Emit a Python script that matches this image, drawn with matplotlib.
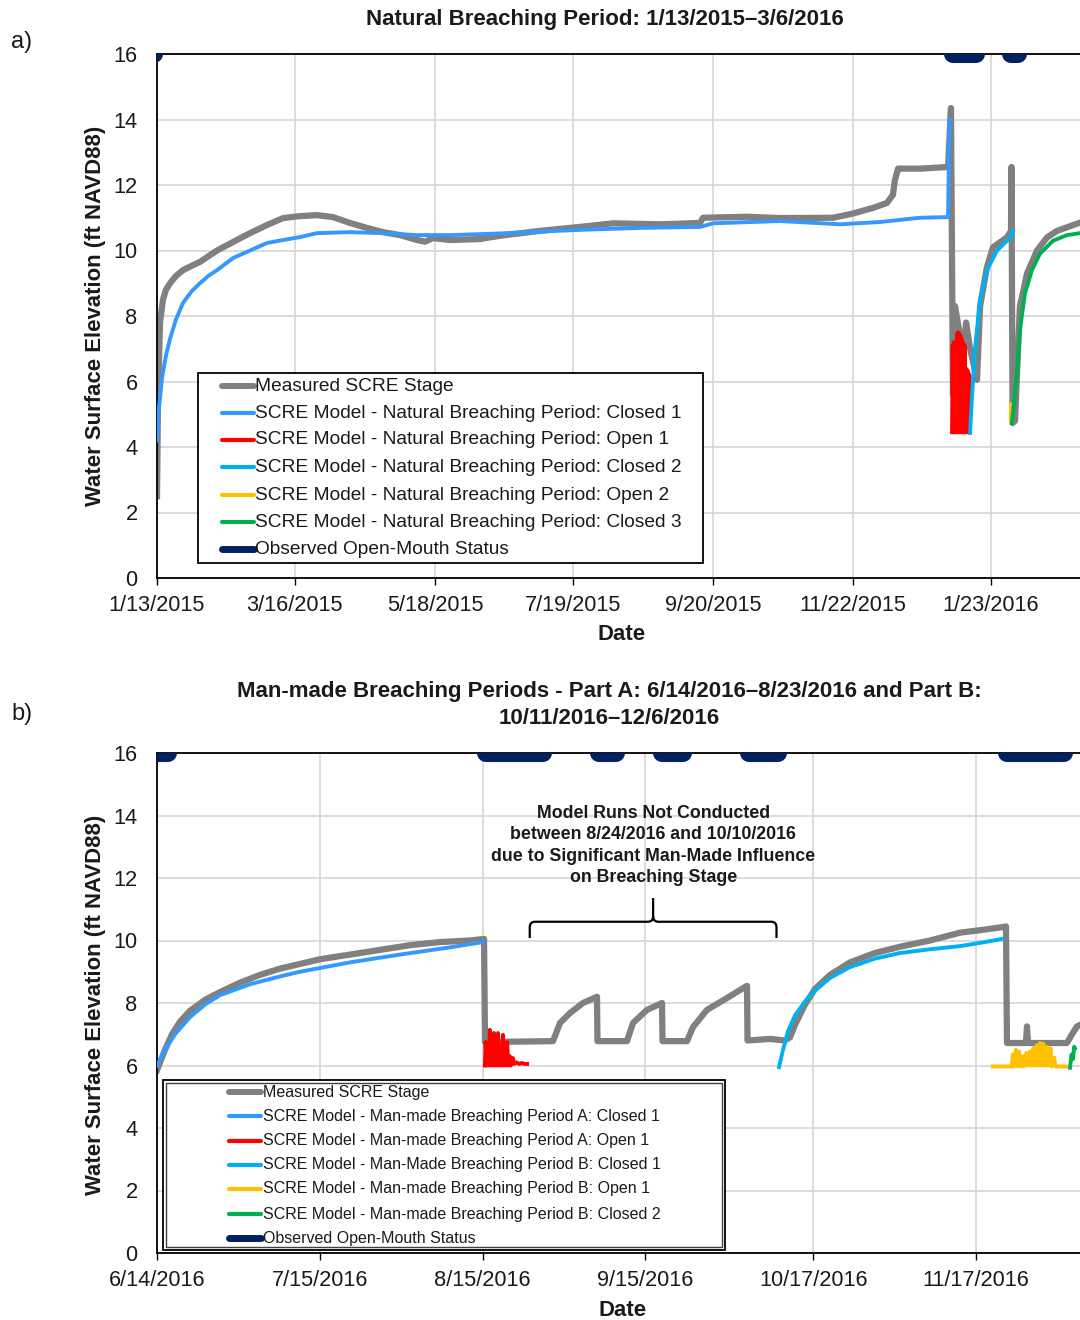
import numpy as np
import pandas as pd
import matplotlib
matplotlib.use("Agg")
import matplotlib.pyplot as plt
import matplotlib.dates as mdates
from matplotlib.lines import Line2D
from matplotlib.patches import Rectangle, PathPatch
from matplotlib.path import Path

plt.rcParams['font.family'] = ['Liberation Sans', 'DejaVu Sans']

# ---------------------------------------------------------------- data
# a) Natural breaching period; x = days after the start date
nat_start = "2015-01-13"
nat_ticks = ["1/13/2015", "3/16/2015", "5/18/2015", "7/19/2015",
             "9/20/2015", "11/22/2015", "1/23/2016"]

nat_measured_day = [0.0, 0.45, 1.35, 2.7, 4.0, 5.85, 8.5, 11.7, 15.5, 19.3,
                    23.0, 27.0, 34.2, 41.8, 49.5, 56.7, 64.3, 71.9, 79.1, 86.8,
                    94.4, 101.6, 109.3, 116.9, 120.5, 124.1, 131.7, 145.2, 154.2, 172.2,
                    190.2, 205.0, 226.2, 244.2, 245.5, 265.3, 280.1, 304.0, 313.0, 321.9,
                    328.2, 330.9, 331.8, 333.2, 343.1, 355.7, 357.0, 357.9, 358.8, 361.1,
                    362.9, 363.8, 365.6, 368.7, 370.1, 373.2, 375.9, 382.2, 384.0, 384.2,
                    384.7, 385.8, 388.0, 391.2, 395.7, 400.2, 404.7, 415.0, 419.5]
nat_measured_ft = [2.5, 5.5, 7.8, 8.5, 8.8, 9.0, 9.22, 9.4, 9.53, 9.65,
                   9.82, 10.0, 10.26, 10.53, 10.78, 10.99, 11.05, 11.08, 11.02, 10.84,
                   10.69, 10.56, 10.47, 10.32, 10.27, 10.38, 10.32, 10.35, 10.45, 10.6,
                   10.72, 10.83, 10.8, 10.84, 11.0, 11.03, 10.99, 11.0, 11.13, 11.3,
                   11.45, 11.7, 12.15, 12.5, 12.5, 12.55, 14.35, 5.6, 8.3, 7.4,
                   7.1, 7.8, 7.0, 6.05, 8.3, 9.5, 10.1, 10.4, 10.6, 12.55,
                   4.73, 4.8, 8.3, 9.3, 10.0, 10.4, 10.6, 10.85, 10.9]

nat_closed1_day = [0.0, 0.9, 2.25, 4.05, 5.85, 8.55, 11.7, 15.5, 19.3, 23.0,
                   27.0, 34.2, 41.8, 49.5, 56.7, 64.3, 71.9, 86.8, 101.6, 116.9,
                   131.7, 154.2, 172.2, 190.2, 217.2, 244.2, 250.0, 280.1, 307.1, 325.1,
                   343.1, 355.7, 356.3]
nat_closed1_ft = [4.2, 5.2, 6.1, 6.8, 7.3, 7.9, 8.4, 8.75, 9.0, 9.22,
                  9.4, 9.77, 10.0, 10.23, 10.32, 10.41, 10.53, 10.56, 10.53, 10.47,
                  10.47, 10.52, 10.58, 10.63, 10.69, 10.72, 10.83, 10.9, 10.8, 10.87,
                  11.0, 11.02, 14.0]

nat_open1_day = [357.5, 357.75, 358.0, 358.25, 358.5, 358.75, 359.0, 359.25, 359.5, 359.75,
                 360.0, 360.25, 360.5, 360.75, 361.0, 361.25, 361.5, 361.75, 362.0, 362.25,
                 362.5, 362.75, 363.0, 363.25, 363.5, 363.75, 364.0, 364.25, 364.5, 364.75,
                 365.0, 365.25, 365.5]
nat_open1_ft = [4.45, 7.1, 4.45, 7.2, 4.45, 7.15, 4.45, 7.2, 4.45, 7.45,
                4.45, 7.5, 4.45, 7.45, 4.45, 7.4, 4.45, 7.3, 4.45, 7.2,
                4.45, 7.15, 4.45, 7.1, 4.45, 6.4, 4.45, 6.35, 4.45, 6.3,
                4.45, 6.2, 4.45]

nat_closed2_day = [365.6, 366.5, 367.8, 370.1, 373.2, 377.7, 383.5, 384.9]
nat_closed2_ft = [4.43, 5.6, 7.0, 8.5, 9.4, 10.0, 10.38, 10.6]

nat_open2_day = [383.9, 384.1, 384.25, 384.4]
nat_open2_ft = [5.3, 4.75, 5.1, 4.75]

nat_closed3_day = [384.4, 386.7, 388.0, 390.3, 393.4, 397.0, 402.9, 409.2, 415.0, 419.5]
nat_closed3_ft = [4.73, 6.25, 7.57, 8.7, 9.4, 9.9, 10.3, 10.47, 10.53, 10.55]

nat_obs_start = [-4.0, 357.9, 384.0]
nat_obs_end = [-1.4, 368.3, 387.1]

# b) Man-made breaching periods
man_start = "2016-06-14"
man_ticks = ["6/14/2016", "7/15/2016", "8/15/2016", "9/15/2016",
             "10/17/2016", "11/17/2016"]

man_measured_day = [0.0, 0.57, 1.52, 2.86, 4.38, 6.29, 9.14, 12.0, 15.81, 19.62,
                    23.43, 27.24, 31.05, 36.76, 42.48, 48.19, 53.9, 59.62, 62.29, 62.48,
                    75.43, 76.76, 78.67, 81.14, 83.81, 83.9, 89.52, 90.67, 93.33, 96.19,
                    96.29, 100.95, 102.1, 104.76, 108.57, 112.38, 112.48, 116.76, 119.62, 120.57,
                    121.52, 123.43, 125.33, 128.19, 132.0, 136.76, 141.52, 147.24, 152.95, 157.71,
                    161.14, 161.71, 161.9, 165.52, 165.71, 165.9, 173.33, 174.29, 175.24, 176.5]
man_measured_ft = [5.85, 6.1, 6.5, 7.0, 7.4, 7.75, 8.1, 8.35, 8.65, 8.9,
                   9.1, 9.25, 9.4, 9.55, 9.7, 9.85, 9.95, 10.0, 10.05, 6.75,
                   6.78, 7.36, 7.68, 8.0, 8.2, 6.78, 6.78, 7.36, 7.78, 8.0,
                   6.78, 6.78, 7.23, 7.78, 8.16, 8.55, 6.8, 6.85, 6.8, 6.9,
                   7.3, 7.95, 8.45, 8.9, 9.3, 9.6, 9.8, 10.0, 10.25, 10.35,
                   10.43, 10.45, 6.72, 6.72, 7.25, 6.72, 6.72, 7.0, 7.25, 7.35]

man_closedA1_day = [0.0, 1.52, 3.43, 6.29, 9.14, 12.0, 17.71, 23.43, 27.24, 36.76,
                    46.29, 55.81, 62.1]
man_closedA1_ft = [6.0, 6.5, 7.0, 7.55, 7.95, 8.25, 8.6, 8.85, 9.0, 9.3,
                   9.55, 9.78, 9.95]

man_openA1_day = [62.45, 62.6, 62.75, 62.95, 63.15, 63.4, 63.6, 63.8, 64.0, 64.2,
                  64.4, 64.6, 64.8, 64.95, 65.15, 65.4, 65.6, 65.9, 66.1, 66.3,
                  66.5, 66.7, 66.9, 67.2, 67.4, 67.8, 68.0, 68.5, 69.0, 69.5,
                  70.0, 70.5]
man_openA1_ft = [6.0, 6.75, 6.0, 6.4, 6.0, 7.14, 6.0, 6.5, 6.0, 7.04,
                 6.0, 6.5, 6.0, 7.04, 6.0, 6.5, 6.0, 6.98, 6.0, 6.45,
                 6.0, 6.75, 6.0, 6.3, 6.0, 6.24, 6.05, 6.1, 6.05, 6.08,
                 6.05, 6.05]

man_closedB1_day = [118.48, 119.24, 120.19, 121.52, 123.43, 125.33, 128.19, 132.0, 136.76, 141.52,
                    147.24, 152.95, 157.71, 160.95]
man_closedB1_ft = [5.95, 6.5, 7.1, 7.6, 8.05, 8.4, 8.8, 9.15, 9.42, 9.6,
                   9.72, 9.82, 9.95, 10.05]

man_openB1_day = [159.2, 162.8, 163.0, 163.2, 163.6, 163.8, 164.2, 164.4, 164.9, 165.1,
                  165.6, 165.8, 166.3, 166.5, 166.9, 167.1, 167.6, 167.8, 168.2, 168.4,
                  168.8, 169.0, 169.5, 169.7, 170.2, 170.4, 170.9, 171.1, 173.1]
man_openB1_ft = [5.97, 5.97, 6.35, 5.97, 6.5, 5.97, 6.45, 5.97, 6.3, 5.97,
                 6.4, 6.0, 6.45, 6.0, 6.55, 6.0, 6.65, 6.0, 6.72, 6.0,
                 6.7, 6.0, 6.6, 6.0, 6.55, 5.97, 6.25, 5.97, 5.97]

man_closedB2_day = [173.9, 174.2, 174.45, 174.7, 174.85]
man_closedB2_ft = [5.93, 6.35, 6.2, 6.6, 6.55]

man_obs_start = [-3.0, 62.7, 84.2, 96.2, 112.8, 161.9]
man_obs_end = [2.0, 73.5, 87.4, 100.2, 118.3, 172.8]

# no-model window marked by the brace (days after man_start)
gap_from_day, gap_to_day = 71.0, 118.0

# ---------------------------------------------------------------- style
W, H = 1080, 1320
C_MEAS = "#808080"
C_CL1 = "#3399FF"
C_OPEN1 = "#FF0000"
C_CL2 = "#00B0F0"
C_OPEN2 = "#FFC000"
C_CL3 = "#00B050"
C_OBS = "#002060"
TXT = "#1a1a1a"
TICK_FS = 15.7
LABEL_FS = 15.9
TITLE_FS = 16.0


def fx(px):
    return px / W


def fy(py):
    return 1 - py / H


def axes_rect(left, top, right, bottom):
    return [fx(left), fy(bottom), (right - left) / W, (bottom - top) / H]


def to_num(start, days):
    return mdates.date2num(pd.Timestamp(start)) + np.asarray(days, dtype=float)


fig = plt.figure(figsize=(W / 100, H / 100), dpi=100)
fig.patch.set_facecolor("white")


def setup_axes(ax, start, ticks, span_days):
    x0 = mdates.date2num(pd.Timestamp(start))
    ax.set_xlim(x0, x0 + span_days)
    ax.set_ylim(0, 16)
    ax.set_yticks(np.arange(0, 17, 2))
    tick_pos = [mdates.date2num(pd.to_datetime(t, format="%m/%d/%Y")) for t in ticks]
    ax.set_xticks(tick_pos)
    ax.set_xticklabels(ticks)
    ax.grid(True, color="#D9D9D9", lw=1.3)
    ax.set_axisbelow(True)
    for side in ("left", "bottom", "top"):
        ax.spines[side].set_color("black")
        ax.spines[side].set_linewidth(1.3)
    ax.spines["right"].set_visible(False)
    ax.tick_params(axis="x", direction="out", length=5, width=1, pad=7,
                   labelsize=TICK_FS, labelcolor=TXT)
    ax.tick_params(axis="y", length=0, pad=14, labelsize=TICK_FS, labelcolor=TXT)


def draw_status(ax, start, s_list, e_list):
    for s, e in zip(s_list, e_list):
        ax.plot(to_num(start, [s, e]), [16, 16], color=C_OBS, lw=13,
                solid_capstyle="round", zorder=6)


def draw_key(box, rows_y, handle_x, text_x, entries, fontsize, double=False):
    l, t, r, b = box
    fig.add_artist(Rectangle((fx(l), fy(b)), (r - l) / W, (b - t) / H,
                             transform=fig.transFigure, facecolor="white",
                             edgecolor="black", lw=1.3, zorder=10))
    if double:
        inset = 3
        fig.add_artist(Rectangle((fx(l + inset), fy(b - inset)),
                                 (r - l - 2 * inset) / W, (b - t - 2 * inset) / H,
                                 transform=fig.transFigure, facecolor="none",
                                 edgecolor="#404040", lw=1.0, zorder=10))
    for y, (label, color, lw) in zip(rows_y, entries):
        fig.add_artist(Line2D([fx(handle_x[0]), fx(handle_x[1])], [fy(y), fy(y)],
                              transform=fig.transFigure, color=color, lw=lw,
                              solid_capstyle="round", zorder=11))
        fig.text(fx(text_x), fy(y), label, fontsize=fontsize, color=TXT,
                 ha="left", va="center", zorder=12)


# ---------------------------------------------------------------- panel a
ax1 = fig.add_axes(axes_rect(157, 54, 1082, 578))
setup_axes(ax1, nat_start, nat_ticks, 925 / 2.224)
ax1.plot(to_num(nat_start, nat_measured_day), nat_measured_ft, color=C_MEAS, lw=4.5, zorder=2)
ax1.plot(to_num(nat_start, nat_closed1_day), nat_closed1_ft, color=C_CL1, lw=2.8, zorder=3)
ax1.plot(to_num(nat_start, nat_open1_day), nat_open1_ft, color=C_OPEN1, lw=2.8, zorder=3)
ax1.plot(to_num(nat_start, nat_closed2_day), nat_closed2_ft, color=C_CL2, lw=2.8, zorder=3)
ax1.plot(to_num(nat_start, nat_open2_day), nat_open2_ft, color=C_OPEN2, lw=2.8, zorder=3)
ax1.plot(to_num(nat_start, nat_closed3_day), nat_closed3_ft, color=C_CL3, lw=2.8, zorder=3)
draw_status(ax1, nat_start, nat_obs_start, nat_obs_end)

fig.text(fx(605), fy(20), "Natural Breaching Period: 1/13/2015\u20133/6/2016",
         fontsize=TITLE_FS, fontweight="bold", color=TXT, ha="center", va="center")
fig.text(fx(96), fy(316), "Water Surface Elevation (ft NAVD88)", rotation=90,
         fontsize=LABEL_FS, fontweight="bold", color=TXT, ha="center", va="center")
fig.text(fx(622), fy(635), "Date", fontsize=LABEL_FS, fontweight="bold", color=TXT,
         ha="center", va="center")
fig.text(fx(22), fy(42), "a)", fontsize=17, color=TXT, ha="center", va="center")

nat_entries = [
    ("Measured SCRE Stage", C_MEAS, 4.3),
    ("SCRE Model - Natural Breaching Period: Closed 1", C_CL1, 3.0),
    ("SCRE Model - Natural Breaching Period: Open 1", C_OPEN1, 3.0),
    ("SCRE Model - Natural Breaching Period: Closed 2", C_CL2, 3.0),
    ("SCRE Model - Natural Breaching Period: Open 2", C_OPEN2, 3.0),
    ("SCRE Model - Natural Breaching Period: Closed 3", C_CL3, 3.0),
    ("Observed Open-Mouth Status", C_OBS, 5.0),
]
draw_key((198, 373, 703, 563), [386, 413, 440, 467, 495, 522, 549],
         (222, 254), 255, nat_entries, 13.75)

# ---------------------------------------------------------------- panel b
ax2 = fig.add_axes(axes_rect(157, 753, 1082, 1253))
setup_axes(ax2, man_start, man_ticks, 925 / 5.25)
ax2.plot(to_num(man_start, man_measured_day), man_measured_ft, color=C_MEAS, lw=4.5, zorder=2)
ax2.plot(to_num(man_start, man_closedA1_day), man_closedA1_ft, color=C_CL1, lw=2.8, zorder=3)
ax2.plot(to_num(man_start, man_openA1_day), man_openA1_ft, color=C_OPEN1, lw=2.8, zorder=3)
ax2.plot(to_num(man_start, man_closedB1_day), man_closedB1_ft, color=C_CL2, lw=2.8, zorder=3)
ax2.plot(to_num(man_start, man_openB1_day), man_openB1_ft, color=C_OPEN2, lw=2.8, zorder=3)
ax2.plot(to_num(man_start, man_closedB2_day), man_closedB2_ft, color=C_CL3, lw=2.8, zorder=3)
draw_status(ax2, man_start, man_obs_start, man_obs_end)

# curly brace over the window without model runs
xa = to_num(man_start, gap_from_day)
xb = to_num(man_start, gap_to_day)
xm = (xa + xb) / 2
y_end, y_bar, y_tip = 10.08, 10.6, 11.36
rx, ry = 1.0, 0.18
verts = [(xa, y_end), (xa, y_bar - ry), (xa, y_bar), (xa + rx, y_bar),
         (xm - rx, y_bar), (xm, y_bar), (xm, y_bar + ry), (xm, y_tip),
         (xm, y_bar + ry), (xm, y_bar), (xm + rx, y_bar),
         (xb - rx, y_bar), (xb, y_bar), (xb, y_bar - ry), (xb, y_end)]
codes = [Path.MOVETO, Path.LINETO, Path.CURVE3, Path.CURVE3,
         Path.LINETO, Path.CURVE3, Path.CURVE3, Path.LINETO,
         Path.MOVETO, Path.CURVE3, Path.CURVE3,
         Path.LINETO, Path.CURVE3, Path.CURVE3, Path.LINETO]
ax2.add_patch(PathPatch(Path(verts, codes), facecolor="none", edgecolor="black",
                        lw=1.6, zorder=4))
ax2.text(xm, 13.04, "Model Runs Not Conducted\nbetween 8/24/2016 and 10/10/2016\n"
         "due to Significant Man-Made Influence\non Breaching Stage",
         ha="center", va="center", fontsize=12.8, fontweight="bold", color=TXT,
         linespacing=1.33, zorder=5)

fig.text(fx(609), fy(705), "Man-made Breaching Periods - Part A: 6/14/2016\u20138/23/2016 and Part B:\n"
         "10/11/2016\u201312/6/2016", fontsize=TITLE_FS, fontweight="bold", color=TXT,
         ha="center", va="center", linespacing=1.4)
fig.text(fx(96), fy(1005), "Water Surface Elevation (ft NAVD88)", rotation=90,
         fontsize=LABEL_FS, fontweight="bold", color=TXT, ha="center", va="center")
fig.text(fx(623), fy(1310), "Date", fontsize=LABEL_FS, fontweight="bold", color=TXT,
         ha="center", va="center")
fig.text(fx(22), fy(714), "b)", fontsize=17, color=TXT, ha="center", va="center")

man_entries = [
    ("Measured SCRE Stage", C_MEAS, 4.3),
    ("SCRE Model - Man-made Breaching Period A: Closed 1", C_CL1, 3.0),
    ("SCRE Model - Man-made Breaching Period A: Open 1", C_OPEN1, 3.0),
    ("SCRE Model - Man-Made Breaching Period B: Closed 1", C_CL2, 3.0),
    ("SCRE Model - Man-made Breaching Period B: Open 1", C_OPEN2, 3.0),
    ("SCRE Model - Man-made Breaching Period B: Closed 2", C_CL3, 3.0),
    ("Observed Open-Mouth Status", C_OBS, 5.0),
]
draw_key((163, 1080, 725, 1250), [1092, 1116, 1141, 1165, 1189, 1214, 1238],
         (229, 261), 263, man_entries, 11.5, double=True)

fig.savefig("out.png", dpi=100, facecolor="white")
